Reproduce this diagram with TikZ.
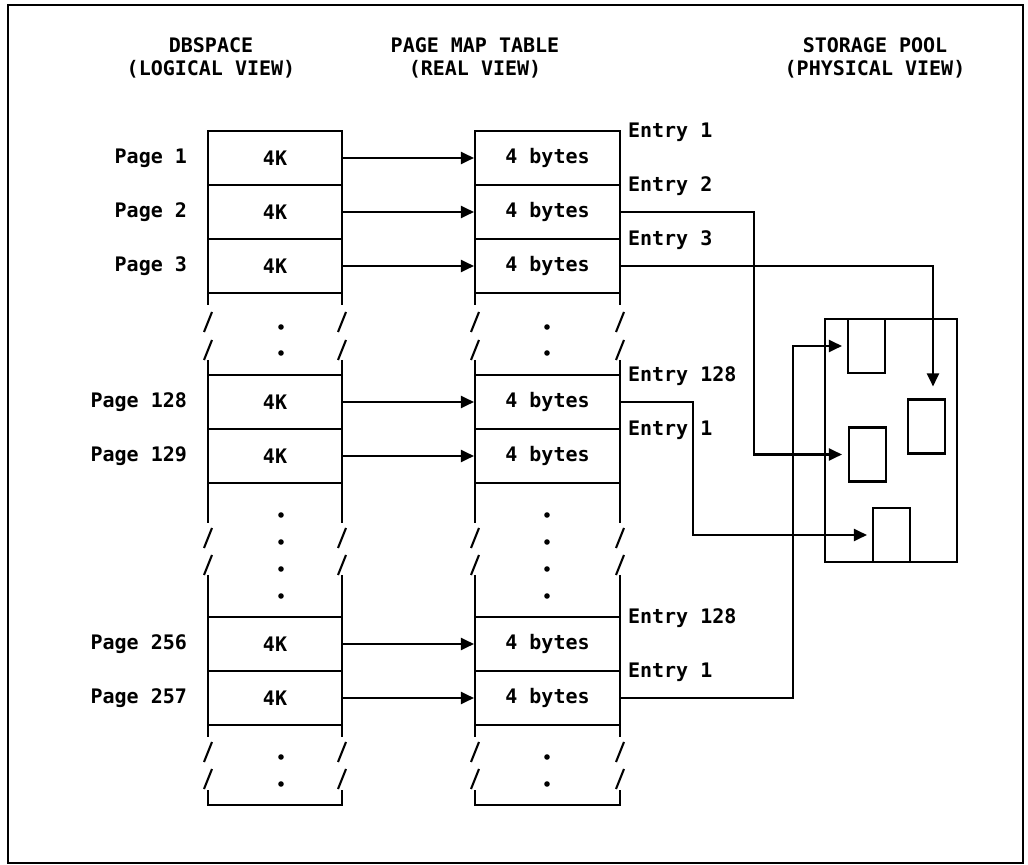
\documentclass[tikz,border=0pt]{standalone}
\usepackage{fontspec}
\setmonofont{DejaVu Sans Mono}
\usetikzlibrary{arrows.meta}

\begin{document}
\begin{tikzpicture}[
    x=0.5pt, y=-0.5pt,
    line width=1.05pt,
    >={Triangle[length=6.5pt, width=6pt]},
    font=\ttfamily\bfseries\fontsize{10}{11.5}\selectfont,
    pagecell/.style={draw, minimum width=67pt, minimum height=27pt, inner sep=0pt},
    mapcell/.style={draw, minimum width=72.5pt, minimum height=27pt, inner sep=0pt},
    blk/.style={draw, minimum width=18.5pt, minimum height=27pt, inner sep=0pt},
    lbl/.style={inner sep=0pt},
    head/.style={align=center, inner sep=0pt}
]
    \useasboundingbox (0,0) rectangle (1028,865);
    \draw (8,5) rectangle (1023,863);

    % Kopfzeilen
    \node[head] (hd) at (211,58) {DBSPACE\\(LOGICAL VIEW)};
    \node[head] (hm) at (475,58) {PAGE MAP TABLE\\(REAL VIEW)};
    \node[head] (hs) at (875,58) {STORAGE POOL\\(PHYSICAL VIEW)};

    % Zeilen: Seite -> Eintrag
    \foreach \p/\y in {1/158, 2/212, 3/266, 128/402, 129/456, 256/644, 257/698} {
        \node[pagecell] (d\p) at (275,\y) {4K};
        \node[mapcell] (m\p) at (547.5,\y) {4 bytes};
        \node[lbl, anchor=east] (pl\p) at (188,\y) {Page \p};
        \draw[->] (d\p) -- (m\p);
    }

    % Eintragsnummern
    \node[lbl, anchor=west] (e1)    at (627,132) {Entry 1};
    \node[lbl, anchor=west] (e2)    at (627,186) {Entry 2};
    \node[lbl, anchor=west] (e3)    at (627,240) {Entry 3};
    \node[lbl, anchor=west] (e128a) at (627,376) {Entry 128};
    \node[lbl, anchor=west] (e1b)   at (627,430) {Entry 1};
    \node[lbl, anchor=west] (e128b) at (627,618) {Entry 128};
    \node[lbl, anchor=west] (e1c)   at (627,672) {Entry 1};

    % Unterbrechungen der Spalten
    \foreach \xl/\xr/\xc in {208/342/281, 475/620/547} {
        % Luecke 1
        \draw (\xl,293) -- (\xl,305) (\xr,293) -- (\xr,305);
        \draw (\xl,360) -- (\xl,375) (\xr,360) -- (\xr,375);
        \foreach \y in {322,350}
            \draw ({\xl-4},{\y+10}) -- ({\xl+4},{\y-10}) ({\xr-4},{\y+10}) -- ({\xr+4},{\y-10});
        \foreach \y in {327,353}
            \fill (\xc,\y) circle[radius=1.4pt];
        % Luecke 2
        \draw (\xl,483) -- (\xl,523) (\xr,483) -- (\xr,523);
        \draw (\xl,575) -- (\xl,617) (\xr,575) -- (\xr,617);
        \foreach \y in {538,565}
            \draw ({\xl-4},{\y+10}) -- ({\xl+4},{\y-10}) ({\xr-4},{\y+10}) -- ({\xr+4},{\y-10});
        \foreach \y in {515,542,569,596}
            \fill (\xc,\y) circle[radius=1.4pt];
        % Luecke 3 und Abschluss
        \draw (\xl,725) -- (\xl,737) (\xr,725) -- (\xr,737);
        \draw (\xl,790) -- (\xl,805) -- (\xr,805) -- (\xr,790);
        \foreach \y in {752,779}
            \draw ({\xl-4},{\y+10}) -- ({\xl+4},{\y-10}) ({\xr-4},{\y+10}) -- ({\xr+4},{\y-10});
        \foreach \y in {757,784}
            \fill (\xc,\y) circle[radius=1.4pt];
    }

    % Speicherpool
    \node[draw, minimum width=66pt, minimum height=121.5pt, inner sep=0pt] (pool) at (891,440.5) {};
    \node[blk] (pA) at (866.5,346) {};
    \node[blk] (pB) at (867.5,454.5) {};
    \node[blk] (pC) at (926.5,426.5) {};
    \node[blk] (pD) at (891.5,535) {};

    % Knickpunkte der Verbindungen
    \coordinate (kA) at (754,0);
    \coordinate (kB) at (933,0);
    \coordinate (kC) at (693,0);
    \coordinate (kD) at (793,0);

    \draw[->, shorten >=3pt]   (m2.east) -| (kA |- pB.west) -- (pB.west);
    \draw[->, shorten >=6pt]   (m3.east) -| (kB |- pC.north);
    \draw[->, shorten >=2.5pt] (m128.east) -| (kC |- pD.west) -- (pD.west);
    \draw[->, shorten >=2.5pt] (m257.east) -| (kD |- pA.west) -- (pA.west);

\end{tikzpicture}
\end{document}
